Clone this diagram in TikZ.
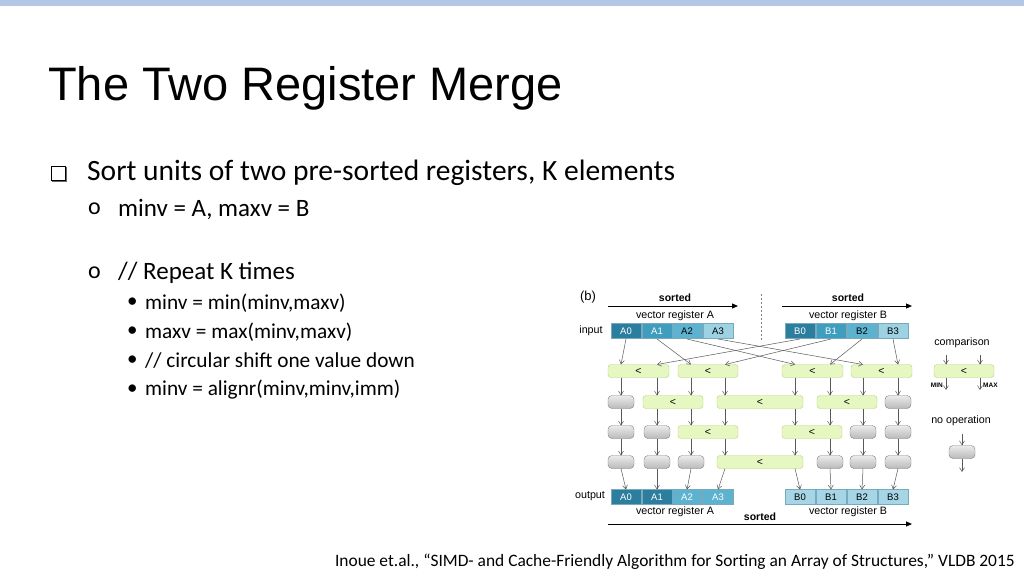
\documentclass[tikz,border=0pt]{standalone}
\usepackage{fontspec}
\setmainfont{Carlito}
\newfontfamily\arial{Liberation Sans}
\usetikzlibrary{arrows.meta}
\definecolor{topbar}{HTML}{B4C7E7}
\definecolor{cmpfill}{HTML}{E6F7C2}
\definecolor{cmpdraw}{HTML}{B5D77A}
\definecolor{nopdraw}{HTML}{7F7F7F}
\definecolor{cA}{HTML}{2B7E9E}
\definecolor{cB}{HTML}{3F9DBD}
\definecolor{cC}{HTML}{5DB3CF}
\definecolor{cD}{HTML}{9DD2E2}
\definecolor{cL}{HTML}{A6D6E6}
\definecolor{cellline}{HTML}{1F6F8F}
\tikzset{
  cmp/.style={draw=cmpdraw,fill=cmpfill,rounded corners=3pt,minimum height=13pt,inner sep=0pt,font=\arial\fontsize{10.5}{10}\selectfont},
  nop/.style={draw=nopdraw,top color=gray!15,bottom color=gray!55,rounded corners=4pt,minimum width=26pt,minimum height=13pt,inner sep=0pt},
  cell/.style={draw=cellline!60,minimum width=30pt,minimum height=15pt,inner sep=0pt,font=\arial\fontsize{9.5}{9}\selectfont},
  arr/.style={draw=gray!70!black,line width=0.5pt,-{Straight Barb[length=4pt,width=5pt]}},
  small/.style={font=\arial\fontsize{10.7}{11}\selectfont,inner sep=0pt},
  bold/.style={font=\arial\bfseries\fontsize{10.5}{11}\selectfont,inner sep=0pt},
  bigarr/.style={line width=1pt,-{Triangle[length=6pt,width=5pt]}}
}
\begin{document}
\begin{tikzpicture}[x=1pt,y=-1pt]
\useasboundingbox (0,0) rectangle (1024,576);
\fill[white] (0,0) rectangle (1024,576);
\fill[topbar] (0,0) rectangle (1024,6);
\node[anchor=west,font=\arial\fontsize{47}{47}\selectfont,inner sep=0pt] (title) at (48,88) {The Two Register Merge};
\fill[black!60] (52,167) rectangle (67,182);
\node[draw=black,fill=white,line width=1pt,minimum size=14pt,inner sep=0pt] (b1m) at (58,173) {};
\node[anchor=west,font=\fontsize{29.5}{29.5}\selectfont,inner sep=0pt] (b1) at (87,173) {Sort units of two pre-sorted registers, K elements};
\node[anchor=west,font=\fontsize{24}{24}\selectfont,inner sep=0pt] (o1) at (88,209) {o};
\node[anchor=west,font=\fontsize{25}{25}\selectfont,inner sep=0pt] (t1) at (118,209) {minv = A, maxv = B};
\node[anchor=west,font=\fontsize{24}{24}\selectfont,inner sep=0pt] (o2) at (88,273) {o};
\node[anchor=west,font=\fontsize{25}{25}\selectfont,inner sep=0pt] (t2) at (118,273) {// Repeat K times};
\foreach \y/\t [count=\k] in {303/{minv = min(minv,maxv)},332/{maxv = max(minv,maxv)},361/{// circular shift one value down},390/{minv = alignr(minv,minv,imm)}}{
  \node[anchor=west,font=\fontsize{21}{21}\selectfont,inner sep=0pt] (d\k) at (127,\y) {\textbullet};
  \node[anchor=west,font=\fontsize{21.3}{21}\selectfont,inner sep=0pt] (s\k) at (145,\y) {\t};
}
\node[anchor=east,font=\fontsize{17.4}{17}\selectfont,inner sep=0pt] (cite) at (1015,562) {Inoue et.al., “SIMD- and Cache-Friendly Algorithm for Sorting an Array of Structures,” VLDB 2015};

% diagram header
\node[small,font=\arial\fontsize{13}{13}\selectfont] (blab) at (588,297) {(b)};
\coordinate (sa1) at (608,306); \coordinate (sa2) at (738,306);
\coordinate (sb1) at (782,306); \coordinate (sb2) at (912,306);
\draw[bigarr] (sa1) -- (sa2);
\draw[bigarr] (sb1) -- (sb2);
\node[bold] (sta) at (675,298) {sorted};
\node[bold] (stb) at (848,298) {sorted};
\node[small] (vra) at (675,316) {vector register A};
\node[small] (vrb) at (848,316) {vector register B};
\coordinate (dv1) at (761,294); \coordinate (dv2) at (761,340);
\draw[gray,line width=0.5pt,dash pattern=on 2pt off 2pt] (dv1) -- (dv2);
\node[small] (inl) at (591,331) {input};
\node[small] (outl) at (590,496) {output};

% input cells
\foreach \n/\x/\c/\tc in {A0/626/cA/white,A1/657/cB/white,A2/687/cC/black,A3/718/cD/black,B0/800/cA/white,B1/831/cB/white,B2/862/cC/black,B3/893/cD/black}{
  \node[cell,fill=\c,text=\tc] (i\n) at (\x,331) {\n};
}
% output cells
\foreach \n/\x/\c/\tc in {A0/626/cA/white,A1/657/cA/white,A2/687/cC/white,A3/718/cC/white,B0/800/cL/black,B1/831/cL/black,B2/862/cL/black,B3/893/cL/black}{
  \node[cell,fill=\c,text=\tc] (o\n) at (\x,497) {\n};
}
% lane coordinates
\foreach \i/\x in {0/621,1/657,2/691,3/725,4/795,5/830,6/863,7/898}{
  \foreach \r/\y in {1/371,2/402,3/432,4/462}{
    \coordinate (t\r-\i) at (\x,\y-6.5);
    \coordinate (b\r-\i) at (\x,\y+6.5);
  }
}
% row 1
\node[cmp,minimum width=61pt] (c1a) at (638.5,371) {<};
\node[cmp,minimum width=60pt] (c1b) at (708,371) {<};
\node[cmp,minimum width=61pt] (c1c) at (812.5,371) {<};
\node[cmp,minimum width=61pt] (c1d) at (881.5,371) {<};
% row 2
\node[nop] (n2a) at (621,402) {};
\node[cmp,minimum width=60pt] (c2a) at (673,402) {<};
\node[cmp,minimum width=86pt] (c2b) at (760,402) {<};
\node[cmp,minimum width=60pt] (c2c) at (847,402) {<};
\node[nop] (n2b) at (898,402) {};
% row 3
\node[nop] (n3a) at (621,432) {};
\node[nop] (n3b) at (657,432) {};
\node[cmp,minimum width=60pt] (c3a) at (708,432) {<};
\node[cmp,minimum width=60pt] (c3b) at (812,432) {<};
\node[nop] (n3c) at (863,432) {};
\node[nop] (n3d) at (898,432) {};
% row 4
\node[nop] (n4a) at (621,462) {};
\node[nop] (n4b) at (657,462) {};
\node[nop] (n4c) at (691,462) {};
\node[cmp,minimum width=86pt] (c4a) at (760,462) {<};
\node[nop] (n4d) at (830,462) {};
\node[nop] (n4e) at (863,462) {};
\node[nop] (n4f) at (898,462) {};
% input arrows
\foreach \n/\i/\x in {A0/0/626,A1/2/657,A2/4/687,A3/6/718,B0/1/800,B1/3/831,B2/5/862,B3/7/893}{
  \coordinate (is\n) at (\x,339);
  \draw[arr] (is\n) -- (t1-\i);
}
% between rows
\foreach \r [evaluate=\r as \s using int(\r+1)] in {1,2,3}{
  \foreach \i in {0,...,7}{
    \draw[arr] (b\r-\i) -- (t\s-\i);
  }
}
% output arrows
\foreach \n/\i/\x in {A0/0/626,A1/1/657,A2/2/687,A3/3/718,B0/4/800,B1/5/831,B2/6/862,B3/7/893}{
  \coordinate (os\n) at (\x,489.5);
  \draw[arr] (b4-\i) -- (os\n);
}
\coordinate (so1) at (608,524); \coordinate (so2) at (912,524);
\draw[bigarr] (so1) -- (so2);
\node[small] (vra2) at (675,512) {vector register A};
\node[small] (vrb2) at (848,512) {vector register B};
\node[bold] (st3) at (760,517) {sorted};

% legend
\node[small] (lcmp) at (962,343) {comparison};
\node[cmp,minimum width=60pt] (lc) at (964,371) {<};
\coordinate (lt1) at (946,355); \coordinate (lt2) at (980,355);
\coordinate (lb1) at (946,377.5); \coordinate (lb2) at (980,377.5);
\coordinate (lm1) at (946,364.5); \coordinate (lm2) at (980,364.5);
\coordinate (le1) at (946,390); \coordinate (le2) at (980,390);
\draw[arr] (lt1) -- (lm1); \draw[arr] (lt2) -- (lm2);
\draw[arr] (lb1) -- (le1); \draw[arr] (lb2) -- (le2);
\node[small,font=\arial\bfseries\fontsize{6.5}{6}\selectfont,anchor=east] (lmin) at (943,385) {MIN};
\node[small,font=\arial\bfseries\fontsize{6.5}{6}\selectfont,anchor=west] (lmax) at (983,385) {MAX};
\node[small] (lnop) at (961,421) {no operation};
\node[nop] (ln) at (962,452) {};
\coordinate (nt) at (962,434); \coordinate (nb) at (962,472);
\draw[arr] (nt) -- (ln.north);
\draw[arr] (ln.south) -- (nb);
\end{tikzpicture}
\end{document}
